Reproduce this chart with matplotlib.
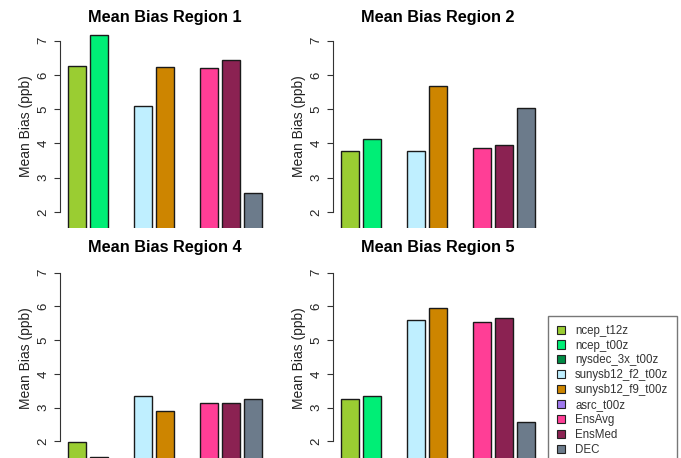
import numpy as np
import matplotlib
matplotlib.use("Agg")
import matplotlib.pyplot as plt
from matplotlib.patches import Patch

plt.rcParams['font.family'] = ['Liberation Sans', 'DejaVu Sans']

models = ["ncep_t12z", "ncep_t00z", "nysdec_3x_t00z", "sunysb12_f2_t00z",
          "sunysb12_f9_t00z", "asrc_t00z", "EnsAvg", "EnsMed", "DEC"]
colors = ["#9ACD32", "#00EE76", "#008B45", "#BFEFFF", "#CD8500",
          "#9F79EE", "#FF3E96", "#8B2252", "#6C7B8B"]

nan = np.nan
bias_r1 = [6.27, 7.17, nan, 5.10, 6.24, nan, 6.19, 6.43, 2.55]
bias_r2 = [3.79, 4.12, nan, 3.77, 5.67, nan, 3.88, 3.96, 5.03]
bias_r4 = [1.98, 1.54, nan, 3.34, 2.90, nan, 3.14, 3.13, 3.25]
bias_r5 = [3.25, 3.34, nan, 5.61, 5.95, nan, 5.53, 5.66, 2.57]

W, H = 681, 458
fig = plt.figure(figsize=(W / 100, H / 100), dpi=100)


def px_axes(left, right, top, bottom):
    return fig.add_axes([left / W, 1 - bottom / H, (right - left) / W, (bottom - top) / H])


# R barplot geometry: width 1, space 0.2
xpos = 0.7 + 1.2 * np.arange(len(models))

panels = [
    ("Mean Bias Region 1", bias_r1, (60, 270, 25, 228), (1.533, 7.458), 2),
    ("Mean Bias Region 2", bias_r2, (333, 543, 25, 228), (1.533, 7.458), 2),
    ("Mean Bias Region 4", bias_r4, (60, 270, 258, 458), (1.505, 7.436), 4),
    ("Mean Bias Region 5", bias_r5, (333, 543, 258, 458), (1.505, 7.436), 4),
]

for title, vals, box, ylim, pad in panels:
    ax = px_axes(*box)
    ax.bar(xpos, vals, width=1.0, color=colors, edgecolor="#1a1a1a", linewidth=1.0)
    ax.set_xlim(-0.224, 11.224)
    ax.set_ylim(*ylim)
    for s in ("top", "right", "bottom"):
        ax.spines[s].set_visible(False)
    ax.spines["left"].set_bounds(2, 7)
    ax.spines["left"].set_color("#333333")
    ax.set_xticks([])
    ax.set_yticks(range(2, 8))
    ax.tick_params(axis="y", direction="out", length=4.5, width=0.8, color="#333333",
                   labelsize=9.5, labelcolor="#222222", labelrotation=90, pad=3)
    for lab in ax.get_yticklabels():
        lab.set_va("center")
    ax.set_ylabel("Mean Bias (ppb)", fontsize=10, color="#222222", labelpad=3)
    ax.set_title(title, fontsize=11.7, fontweight="bold", pad=pad)

handles = [Patch(facecolor=c, edgecolor="#222222", linewidth=0.8) for c in colors]
leg = fig.legend(handles, models, loc="upper left",
                 bbox_to_anchor=(548 / W, 1 - 316 / H), fontsize=8.3,
                 handlelength=0.7, handleheight=0.7, handletextpad=0.9,
                 labelspacing=0.25, borderpad=0.75, borderaxespad=0,
                 frameon=True, fancybox=False, labelcolor="#333333")
leg.get_frame().set_edgecolor("#555555")
leg.get_frame().set_linewidth(1.0)

fig.savefig("out.png", dpi=100)
